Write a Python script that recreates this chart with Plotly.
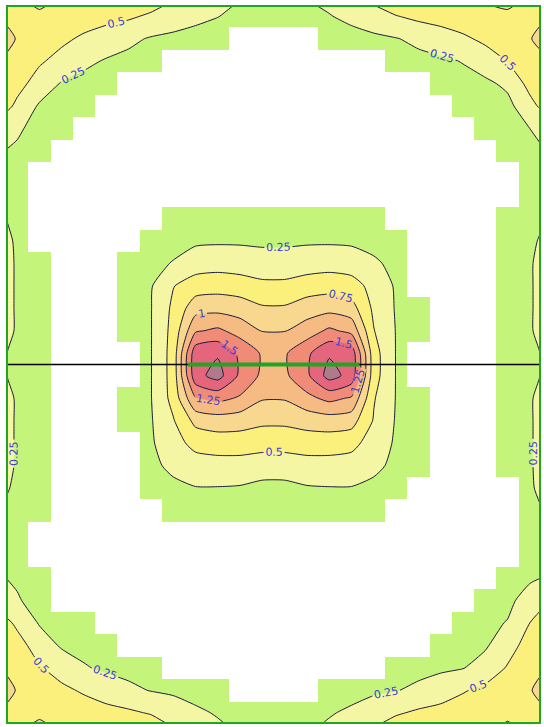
import numpy as np
import plotly.graph_objects as go

# Illuminance (lx) at the centre of each grid cell: 24 columns, row 0 at the top wall.
upper_rows = [
    [0.72, 0.72, 0.66, 0.62, 0.58, 0.54, 0.46, 0.37, 0.30, 0.255, 0.20, 0.17, 0.17, 0.20, 0.24, 0.30, 0.40, 0.49, 0.56, 0.60, 0.64, 0.68, 0.72, 0.72],
    [0.74, 0.62, 0.55, 0.46, 0.38, 0.30, 0.23, 0.20, 0.18, 0.16, 0.14, 0.13, 0.13, 0.14, 0.16, 0.18, 0.20, 0.24, 0.30, 0.38, 0.46, 0.55, 0.62, 0.74],
    [0.66, 0.53, 0.42, 0.30, 0.23, 0.19, 0.16, 0.13, 0.11, 0.10, 0.09, 0.09, 0.09, 0.09, 0.10, 0.11, 0.13, 0.16, 0.19, 0.21, 0.26, 0.38, 0.51, 0.64],
    [0.58, 0.40, 0.23, 0.18, 0.16, 0.13, 0.11, 0.10, 0.09, 0.08, 0.08, 0.08, 0.08, 0.08, 0.08, 0.09, 0.10, 0.11, 0.13, 0.16, 0.18, 0.20, 0.30, 0.58],
    [0.45, 0.22, 0.17, 0.16, 0.13, 0.11, 0.10, 0.09, 0.08, 0.08, 0.07, 0.07, 0.07, 0.07, 0.08, 0.08, 0.09, 0.10, 0.11, 0.13, 0.16, 0.17, 0.18, 0.42],
    [0.28, 0.18, 0.16, 0.13, 0.11, 0.10, 0.09, 0.08, 0.07, 0.07, 0.07, 0.07, 0.07, 0.07, 0.07, 0.07, 0.08, 0.09, 0.10, 0.11, 0.13, 0.16, 0.18, 0.25],
    [0.22, 0.17, 0.13, 0.11, 0.10, 0.09, 0.08, 0.07, 0.07, 0.07, 0.06, 0.06, 0.06, 0.06, 0.07, 0.07, 0.07, 0.08, 0.09, 0.10, 0.11, 0.13, 0.16, 0.21],
    [0.19, 0.13, 0.11, 0.10, 0.09, 0.08, 0.08, 0.07, 0.07, 0.07, 0.07, 0.07, 0.07, 0.07, 0.07, 0.07, 0.08, 0.08, 0.09, 0.10, 0.11, 0.12, 0.13, 0.18],
    [0.19, 0.13, 0.11, 0.10, 0.10, 0.09, 0.10, 0.11, 0.12, 0.12, 0.12, 0.11, 0.11, 0.12, 0.12, 0.12, 0.11, 0.10, 0.09, 0.10, 0.11, 0.12, 0.13, 0.18],
]

middle_rows = [
    [0.21, 0.13, 0.11, 0.10, 0.10, 0.11, 0.13, 0.16, 0.18, 0.19, 0.19, 0.18, 0.18, 0.19, 0.19, 0.18, 0.16, 0.13, 0.11, 0.10, 0.11, 0.13, 0.16, 0.21],
    [0.23, 0.13, 0.11, 0.10, 0.10, 0.13, 0.16, 0.19, 0.21, 0.22, 0.22, 0.21, 0.21, 0.22, 0.22, 0.21, 0.19, 0.16, 0.13, 0.11, 0.11, 0.13, 0.17, 0.23],
    [0.24, 0.17, 0.13, 0.11, 0.11, 0.16, 0.20, 0.26, 0.38, 0.40, 0.38, 0.35, 0.35, 0.38, 0.40, 0.38, 0.28, 0.20, 0.13, 0.11, 0.11, 0.13, 0.17, 0.24],
    [0.24, 0.17, 0.13, 0.11, 0.11, 0.17, 0.23, 0.49, 0.62, 0.65, 0.62, 0.56, 0.56, 0.62, 0.65, 0.60, 0.42, 0.22, 0.13, 0.11, 0.11, 0.13, 0.17, 0.24],
    [0.24, 0.17, 0.13, 0.11, 0.11, 0.18, 0.24, 0.55, 0.90, 0.92, 0.88, 0.78, 0.78, 0.88, 0.92, 0.85, 0.45, 0.23, 0.16, 0.12, 0.11, 0.13, 0.17, 0.24],
    [0.24, 0.17, 0.13, 0.11, 0.11, 0.18, 0.24, 0.58, 1.22, 1.30, 1.15, 0.99, 0.99, 1.12, 1.30, 1.18, 0.51, 0.24, 0.16, 0.12, 0.11, 0.13, 0.17, 0.24],
    [0.225, 0.17, 0.12, 0.10, 0.11, 0.13, 0.24, 0.60, 1.66, 1.72, 1.45, 1.22, 1.22, 1.45, 1.72, 1.66, 0.60, 0.24, 0.13, 0.11, 0.11, 0.13, 0.17, 0.225],
    [0.225, 0.17, 0.12, 0.10, 0.11, 0.13, 0.24, 0.60, 1.66, 1.85, 1.45, 1.20, 1.20, 1.45, 1.85, 1.66, 0.60, 0.24, 0.13, 0.11, 0.11, 0.13, 0.17, 0.225],
    [0.24, 0.17, 0.13, 0.11, 0.11, 0.17, 0.24, 0.58, 1.24, 1.32, 1.22, 1.02, 1.02, 1.18, 1.32, 1.22, 0.52, 0.24, 0.17, 0.12, 0.11, 0.13, 0.17, 0.24],
    [0.24, 0.17, 0.13, 0.11, 0.11, 0.17, 0.23, 0.48, 0.82, 0.88, 0.86, 0.80, 0.80, 0.85, 0.88, 0.85, 0.48, 0.23, 0.16, 0.12, 0.11, 0.13, 0.17, 0.24],
    [0.24, 0.17, 0.13, 0.11, 0.11, 0.13, 0.22, 0.40, 0.58, 0.62, 0.62, 0.60, 0.60, 0.62, 0.62, 0.58, 0.38, 0.22, 0.16, 0.12, 0.11, 0.13, 0.17, 0.24],
    [0.24, 0.17, 0.13, 0.11, 0.11, 0.13, 0.20, 0.30, 0.38, 0.40, 0.40, 0.36, 0.36, 0.40, 0.40, 0.38, 0.30, 0.20, 0.16, 0.12, 0.11, 0.13, 0.17, 0.24],
    [0.23, 0.17, 0.13, 0.11, 0.10, 0.12, 0.16, 0.20, 0.24, 0.24, 0.23, 0.19, 0.19, 0.23, 0.24, 0.24, 0.20, 0.16, 0.13, 0.11, 0.11, 0.12, 0.13, 0.23],
    [0.21, 0.16, 0.12, 0.10, 0.10, 0.11, 0.13, 0.16, 0.18, 0.18, 0.18, 0.17, 0.17, 0.18, 0.18, 0.18, 0.16, 0.13, 0.11, 0.10, 0.10, 0.11, 0.13, 0.205],
]

lower_rows = [
    [0.19, 0.13, 0.11, 0.10, 0.09, 0.09, 0.10, 0.11, 0.12, 0.12, 0.12, 0.11, 0.11, 0.12, 0.12, 0.12, 0.11, 0.10, 0.09, 0.09, 0.10, 0.11, 0.13, 0.18],
    [0.20, 0.13, 0.11, 0.10, 0.09, 0.08, 0.08, 0.08, 0.07, 0.07, 0.07, 0.07, 0.07, 0.07, 0.07, 0.08, 0.08, 0.08, 0.09, 0.10, 0.11, 0.12, 0.13, 0.19],
    [0.22, 0.16, 0.13, 0.11, 0.10, 0.09, 0.08, 0.07, 0.07, 0.07, 0.06, 0.06, 0.06, 0.06, 0.07, 0.07, 0.07, 0.08, 0.09, 0.10, 0.11, 0.13, 0.16, 0.22],
    [0.27, 0.17, 0.14, 0.12, 0.11, 0.10, 0.09, 0.08, 0.07, 0.07, 0.07, 0.07, 0.07, 0.07, 0.07, 0.07, 0.08, 0.09, 0.10, 0.11, 0.13, 0.16, 0.20, 0.34],
    [0.45, 0.23, 0.18, 0.16, 0.13, 0.11, 0.10, 0.09, 0.08, 0.08, 0.07, 0.07, 0.07, 0.07, 0.08, 0.08, 0.09, 0.10, 0.11, 0.13, 0.17, 0.20, 0.26, 0.50],
    [0.60, 0.38, 0.22, 0.18, 0.16, 0.13, 0.11, 0.10, 0.09, 0.08, 0.08, 0.08, 0.08, 0.08, 0.08, 0.09, 0.10, 0.11, 0.13, 0.16, 0.19, 0.22, 0.40, 0.60],
    [0.66, 0.52, 0.40, 0.27, 0.21, 0.18, 0.16, 0.13, 0.11, 0.10, 0.09, 0.09, 0.09, 0.09, 0.10, 0.11, 0.13, 0.16, 0.18, 0.21, 0.24, 0.35, 0.52, 0.66],
    [0.74, 0.62, 0.55, 0.47, 0.38, 0.30, 0.24, 0.21, 0.19, 0.17, 0.14, 0.12, 0.12, 0.14, 0.17, 0.19, 0.21, 0.24, 0.30, 0.38, 0.48, 0.56, 0.64, 0.74],
    [0.72, 0.72, 0.66, 0.62, 0.58, 0.54, 0.48, 0.38, 0.28, 0.235, 0.19, 0.17, 0.17, 0.19, 0.235, 0.28, 0.38, 0.47, 0.54, 0.58, 0.62, 0.66, 0.72, 0.72],
]

# Isolux levels and the fill used above each of them (below the first level is left clear).
levels = [0.25, 0.5, 0.75, 1.0, 1.25, 1.5, 1.75, 2.0]
band_colours = ["rgba(0,0,0,0)", "#f4f6a4", "#fbf07c", "#f8d78e", "#f5bb82",
                "#f08b78", "#e4657c", "#b07a8a", "#9c8c8c"]
lit_threshold = 0.15          # cells at or above this are shaded green
lit_green = "#c4f47a"
frame_green = "#22a522"

# Linear luminaire along the room axis (grid units).
luminaire_x = [8.15, 15.85]
axis_y = 16.0

grid = np.array(upper_rows + middle_rows + lower_rows, dtype=float)
ny, nx = grid.shape
xc = np.arange(nx) + 0.5
yc = np.arange(ny) + 0.5

# Extend the field half a cell to the walls so the isolines reach the frame.
def extend_to_walls(a):
    left = 1.5 * a[:, 0] - 0.5 * a[:, 1]
    right = 1.5 * a[:, -1] - 0.5 * a[:, -2]
    a = np.column_stack([left, a, right])
    top = 1.5 * a[0] - 0.5 * a[1]
    bottom = 1.5 * a[-1] - 0.5 * a[-2]
    return np.vstack([top, a, bottom])

zw = extend_to_walls(grid)
xw = np.concatenate([[0.0], xc, [float(nx)]])
yw = np.concatenate([[0.0], yc, [float(ny)]])

step = levels[1] - levels[0]
nb = len(band_colours) - 1
scale = []
for k, col in enumerate(band_colours):
    lo = max(0.0, (k - 0.5) / nb)
    hi = min(1.0, (k + 0.5) / nb)
    scale += [[lo, col], [hi, col]]

fig = go.Figure()

fig.add_trace(go.Heatmap(
    x=xc, y=yc, z=grid,
    zmin=0, zmax=2 * lit_threshold,
    colorscale=[[0, "white"], [0.5, "white"], [0.5, lit_green], [1, lit_green]],
    showscale=False, hoverinfo="skip",
))

fig.add_trace(go.Contour(
    x=xw, y=yw, z=zw,
    autocontour=False,
    contours=dict(start=levels[0], end=levels[-1], size=step, coloring="fill",
                  showlabels=True,
                  labelfont=dict(family="DejaVu Sans", size=11, color="#3c3cd2")),
    colorscale=scale, showscale=False,
    line=dict(color="#1c1c3a", width=1, smoothing=0.6),
    hoverinfo="skip",
))

fig.add_trace(go.Scatter(
    x=[0, nx], y=[axis_y, axis_y], mode="lines",
    line=dict(color="black", width=1.5), hoverinfo="skip", showlegend=False,
))
fig.add_trace(go.Scatter(
    x=luminaire_x, y=[axis_y, axis_y], mode="lines",
    line=dict(color=frame_green, width=4), hoverinfo="skip", showlegend=False,
))

fig.add_shape(type="rect", x0=0, x1=nx, y0=0, y1=ny,
              line=dict(color=frame_green, width=4), layer="above")

fig.update_layout(
    width=544, height=727,
    margin=dict(l=6, r=3, t=5, b=3),
    paper_bgcolor="white", plot_bgcolor="white",
    showlegend=False,
    xaxis=dict(range=[0, nx], visible=False, fixedrange=True),
    yaxis=dict(range=[ny, 0], visible=False, fixedrange=True),
)

fig.write_html("out.html")
